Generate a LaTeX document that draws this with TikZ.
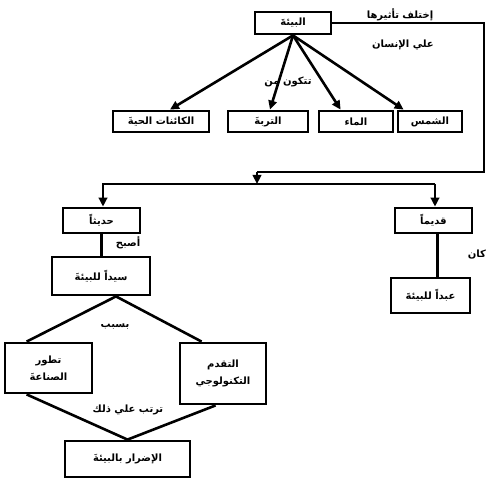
\documentclass[tikz,border=0pt]{standalone}
\usepackage{fontspec}
\newfontfamily\arabicfont[Script=Arabic]{DejaVu Sans}
\TeXXeTstate=1
\usetikzlibrary{arrows.meta}
\newcommand{\artext}[1]{\beginR #1\endR}

\begin{document}
\begin{tikzpicture}[x=1pt,y=-1pt,
     box/.style={draw, fill=white, line width=2.8pt, inner sep=1pt, align=center, font=\arabicfont\bfseries\fontsize{10}{17}\selectfont},
     lbl/.style={inner sep=1pt, font=\arabicfont\bfseries\fontsize{10}{17}\selectfont},
     link/.style={line width=2.6pt},
     arr/.style={link, -{Triangle[length=9pt,width=8.5pt]}}]
     \useasboundingbox (0,0) rectangle (501,481);

     % top box and its parts
     \node[box, minimum width=76pt, minimum height=22pt] (Bia) at (293,23) {\artext{البيئةَ}};
     \node[box, minimum width=96pt, minimum height=21pt] (Kaenat) at (161,121.5) {\artext{الكائنات الحيةَ}};
     \node[box, minimum width=80pt, minimum height=21pt] (Turba) at (268,121.5) {\artext{التربةَ}};
     \node[box, minimum width=74pt, minimum height=21pt] (Maa) at (356,121.5) {\artext{الماء}};
     \node[box, minimum width=64pt, minimum height=21pt] (Shams) at (430,121.5) {\artext{الشمس}};

     % then and now
     \node[box, minimum width=77pt, minimum height=25pt] (Hadithan) at (101.5,220.5) {\artext{حديثاً}};
     \node[box, minimum width=98pt, minimum height=38pt] (Sayyid) at (101,276) {\artext{سيداً للبيئةَ}};
     \node[box, minimum width=77pt, minimum height=25pt] (Qadiman) at (433.5,220.5) {\artext{قديماً}};
     \node[box, minimum width=79pt, minimum height=35pt] (Abd) at (430.5,295.5) {\artext{عبداً للبيئةَ}};

     % causes and result
     \node[box, minimum width=87pt, minimum height=50pt] (Tatawwur) at (48.5,368) {\artext{تطور}\\\artext{الصناعةَ}};
     \node[box, minimum width=86pt, minimum height=61pt] (Taqaddum) at (223,373.5) {\artext{التقدم}\\\artext{التكنولوجي}};
     \node[box, minimum width=125pt, minimum height=36pt] (Idrar) at (127.5,459) {\artext{الإضرار بالبيئةَ}};

     % labels
     \node[lbl] (Ikhtalaf) at (400,15) {\artext{إختلف تأثيرها}};
     \node[lbl] (Ala) at (403,45) {\artext{علي الإنسان}};
     \node[lbl] (Tatakawwan) at (288,82) {\artext{تتكون من}};
     \node[lbl] (Asbah) at (128,243) {\artext{أصبح}};
     \node[lbl] (Kan) at (477,255) {\artext{كان}};
     \node[lbl] (Bisabab) at (115,327) {\artext{بسبب}};
     \node[lbl] (Tarattab) at (128,410) {\artext{ترتب علي ذلك}};

     \coordinate (TurnA) at (484,23);
     \coordinate (TurnB) at (484,172);
     \coordinate (Split) at (257,172);
     \coordinate (Hub) at (257,184);
     \coordinate (HubL) at (103,184);
     \coordinate (HubR) at (435,184);

     \draw[arr] (Bia.south) -- ([xshift=9pt]Kaenat.north);
     \draw[arr] (Bia.south) -- ([xshift=2pt]Turba.north);
     \draw[arr] (Bia.south) -- ([xshift=23pt]Maa.north west);
     \draw[arr] (Bia.south) -- ([xshift=7pt]Shams.north west);

     \draw[link, line join=miter] (Bia.east) -- (TurnA) -- (TurnB) -- (Split);
     \draw[arr] (Split) -- (Hub);
     \draw[arr, line join=miter] (HubR) -- (HubL) -- (HubL |- Hadithan.north);
     \draw[arr] (HubR) -- (HubR |- Qadiman.north);

     \draw[link] (Hadithan.south) -- (Hadithan.south |- Sayyid.north);
     \draw[link] ([xshift=4pt]Qadiman.south) -- ([xshift=4pt]Qadiman.south |- Abd.north);

     \draw[link] ([xshift=23pt]Tatawwur.north west) -- ([xshift=15pt]Sayyid.south) -- ([xshift=23pt]Taqaddum.north west);
     \draw[link] ([xshift=23pt]Tatawwur.south west) -- (Idrar.north) -- ([xshift=37pt]Taqaddum.south west);
\end{tikzpicture}
\end{document}
